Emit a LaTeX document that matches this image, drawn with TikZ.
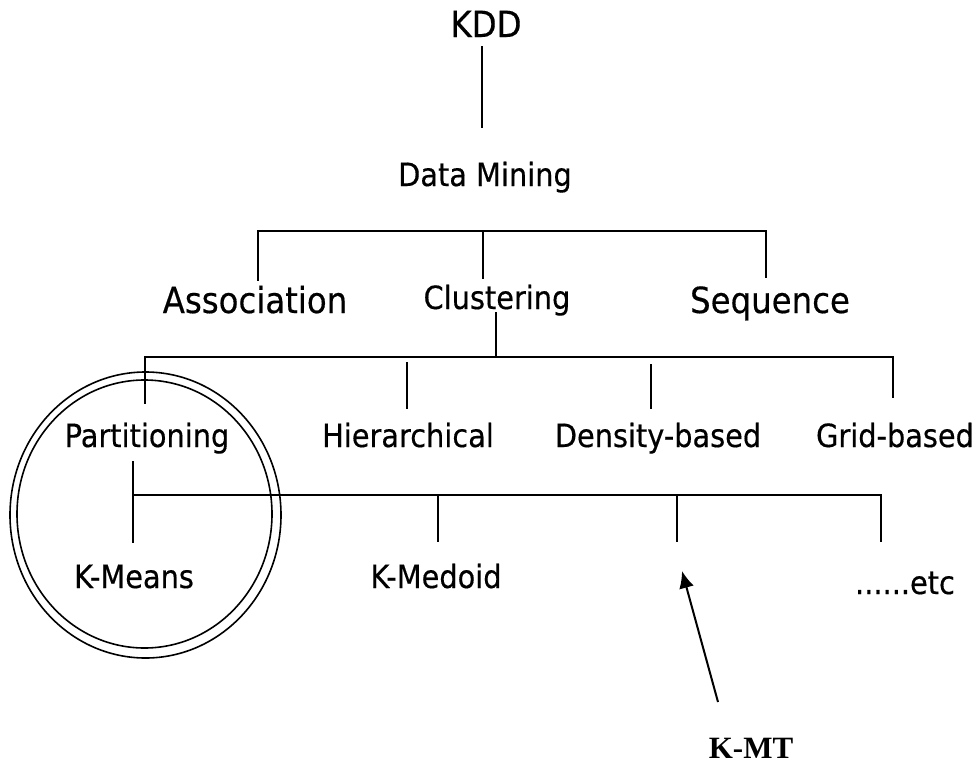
\documentclass[tikz,border=0pt]{standalone}
\usepackage{fontspec}
\newfontfamily\tah[FakeStretch=0.9,FakeBold=0.4]{DejaVu Sans}
\newfontfamily\tms{Liberation Serif}
\usetikzlibrary{arrows.meta}
\begin{document}
\begin{tikzpicture}[x=1pt,y=-1pt,
  lbl/.style={anchor=base, inner sep=0pt, font=\tah\fontsize{32}{36}\selectfont},
  big/.style={lbl, font=\tah\fontsize{36}{40}\selectfont},
  wire/.style={line width=1.8pt, line cap=rect},
  ring/.style={line width=1.6pt}]
\useasboundingbox (0,0) rectangle (980,763);

% labels
\node[lbl, font=\tah\fontsize{36}{40}\selectfont] (kdd) at (486,37) {KDD};
\node[lbl] (dm) at (485,186) {Data Mining};
\node[big] (assoc) at (255,313) {Association};
\node[lbl] (clus) at (497,309) {Clustering};
\node[big] (seq) at (770,313) {Sequence};
\node[lbl] (part) at (147,447) {Partitioning};
\node[lbl] (hier) at (408,447) {Hierarchical};
\node[lbl] (dens) at (658,447) {Density-based};
\node[lbl] (grid) at (895,447) {Grid-based};
\node[lbl] (km) at (134,588) {K-Means};
\node[lbl] (kmed) at (436,588) {K-Medoid};
\node[lbl] (etc) at (905,594) {......etc};
\node[anchor=base, inner sep=0pt, font=\tms\bfseries\fontsize{31}{34}\selectfont] (kmt) at (751,758) {K-MT};

% junction coordinates
\coordinate (kddB) at (482,47);
\coordinate (dmT) at (482,127);
\coordinate (b1L) at (258,231);
\coordinate (b1M) at (483,231);
\coordinate (b1R) at (766,231);
\coordinate (assocT) at (258,280);
\coordinate (clusT) at (483,278);
\coordinate (seqT) at (766,277);
\coordinate (clusB) at (496,313);
\coordinate (b2L) at (145,357);
\coordinate (b2M) at (496,357);
\coordinate (b2R) at (893,357);
\coordinate (partT) at (145,403);
\coordinate (hierS) at (407,363);
\coordinate (hierT) at (407,408);
\coordinate (densS) at (651,365);
\coordinate (densT) at (651,408);
\coordinate (gridT) at (893,397);
\coordinate (partB) at (133,462);
\coordinate (b3L) at (133,495);
\coordinate (b3R) at (881,495);
\coordinate (kmT) at (133,542);
\coordinate (b3A) at (438,495);
\coordinate (kmedT) at (438,541);
\coordinate (b3B) at (677,495);
\coordinate (kmtT) at (677,541);
\coordinate (etcT) at (881,541);
\coordinate (arrTail) at (718,702);
\coordinate (arrTip) at (682,571);

% connectors
\draw[wire] (kddB) -- (dmT);
\draw[wire] (b1L) -- (b1R);
\draw[wire] (b1L) -- (assocT);
\draw[wire] (b1M) -- (clusT);
\draw[wire] (b1R) -- (seqT);
\draw[wire] (clusB) -- (b2M);
\draw[wire] (b2L) -- (b2R);
\draw[wire] (b2L) -- (partT);
\draw[wire] (hierS) -- (hierT);
\draw[wire] (densS) -- (densT);
\draw[wire] (b2R) -- (gridT);
\draw[wire] (partB) -- (kmT);
\draw[wire] (b3L) -- (b3R);
\draw[wire] (b3A) -- (kmedT);
\draw[wire] (b3B) -- (kmtT);
\draw[wire] (b3R) -- (etcT);
\draw[line width=2pt, -{Latex[length=17pt,width=15pt]}] (arrTail) -- (arrTip);

% double ring around Partitioning / K-Means
\draw[ring] (145.5,515) ellipse [x radius=135.5, y radius=143];
\draw[ring] (144.5,514) ellipse [x radius=127.5, y radius=134];
\end{tikzpicture}
\end{document}
